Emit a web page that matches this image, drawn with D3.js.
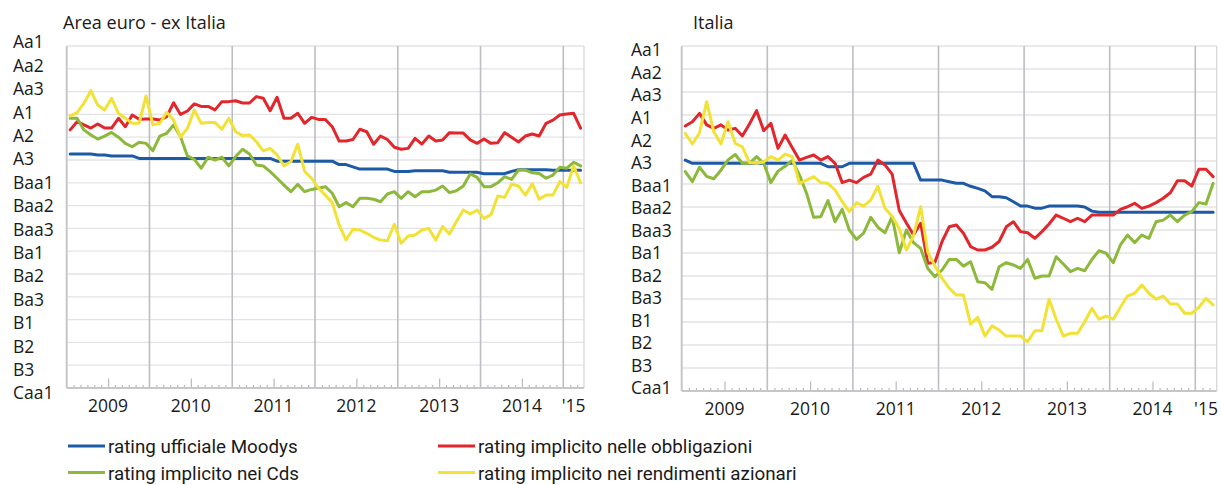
<!DOCTYPE html>
<html>
<head>
<meta charset="utf-8">
<script src="https://cdn.jsdelivr.net/npm/d3@7"></script>
<style>
  html, body { margin: 0; padding: 0; background: #ffffff; }
  svg { display: block; }
  text { fill: #1a1a1a; }
</style>
</head>
<body>
<svg id="chart" width="1221" height="485"></svg>
<script>
// Rating scale (1 = Aa1 ... 16 = Caa1)
const ratingLabels = ["Aa1", "Aa2", "Aa3", "A1", "A2", "A3", "Baa1", "Baa2", "Baa3",
  "Ba1", "Ba2", "Ba3", "B1", "B2", "B3", "Caa1"];

// Monthly observations, Jan 2009 – Mar 2015
const monthCount = 75;
const yearLabels = ["2009", "2010", "2011", "2012", "2013", "2014", "'15"];
const yearCenters = [6, 18, 30, 42, 54, 66, 73.5];

const seriesNames = [
  "rating ufficiale Moodys",
  "rating implicito nelle obbligazioni",
  "rating implicito nei Cds",
  "rating implicito nei rendimenti azionari"
];
const seriesColors = ["#1c5aa5", "#e2272c", "#8cb83b", "#f2e236"];

// Area euro - ex Italia
const euroMoodys = [5.74, 5.74, 5.74, 5.74, 5.78, 5.78, 5.82, 5.82, 5.82, 5.82,
  5.93, 5.93, 5.93, 5.93, 5.93, 5.93, 5.93, 5.93, 5.93, 5.93,
  5.93, 5.93, 5.93, 5.93, 5.93, 5.93, 5.93, 5.93, 5.93, 5.93,
  6.05, 6.05, 6.05, 6.05, 6.05, 6.05, 6.05, 6.05, 6.05, 6.2,
  6.2, 6.3, 6.4, 6.4, 6.4, 6.4, 6.4, 6.5, 6.5, 6.5,
  6.47, 6.47, 6.47, 6.47, 6.47, 6.54, 6.54, 6.54, 6.54, 6.54,
  6.6, 6.6, 6.6, 6.6, 6.5, 6.43, 6.43, 6.43, 6.43, 6.43,
  6.45, 6.45, 6.45, 6.45, 6.45];
const euroBonds = [4.68, 4.32, 4.46, 4.6, 4.42, 4.6, 4.6, 4.17, 4.54, 4.03,
  4.21, 4.2, 4.2, 4.25, 4.1, 3.49, 4.0, 3.85, 3.54, 3.65,
  3.65, 3.8, 3.44, 3.44, 3.4, 3.5, 3.5, 3.22, 3.29, 3.84,
  3.25, 4.17, 4.17, 3.95, 4.39, 4.13, 4.22, 4.22, 4.54, 5.17,
  5.17, 5.1, 4.65, 4.76, 5.31, 4.95, 5.1, 5.44, 5.53, 5.49,
  5.05, 5.3, 4.95, 5.17, 5.12, 4.8, 4.82, 4.82, 5.12, 5.27,
  5.08, 5.27, 5.24, 4.8, 5.0, 5.21, 4.95, 4.86, 4.95, 4.39,
  4.25, 4.03, 3.98, 3.95, 4.6];
const euroCds = [4.17, 4.17, 4.68, 4.9, 5.08, 4.95, 4.79, 5.0, 5.27, 5.42,
  5.22, 5.27, 5.59, 4.95, 4.83, 4.46, 4.98, 5.82, 5.97, 6.36,
  5.88, 6.0, 5.88, 6.26, 5.85, 5.53, 5.74, 6.22, 6.26, 6.51,
  6.8, 7.1, 7.39, 7.07, 7.39, 7.29, 7.24, 7.17, 7.46, 8.05,
  7.87, 8.05, 7.68, 7.68, 7.72, 7.83, 7.49, 7.39, 7.68, 7.39,
  7.61, 7.39, 7.39, 7.32, 7.14, 7.43, 7.35, 7.14, 6.61, 6.76,
  7.17, 7.17, 7.0, 6.73, 6.85, 6.44, 6.44, 6.56, 6.59, 6.8,
  6.66, 6.32, 6.36, 6.1, 6.26];
const euroEquity = [4.07, 3.92, 3.51, 2.96, 3.59, 3.81, 3.29, 3.95, 4.17, 4.39,
  4.39, 3.19, 4.46, 4.39, 3.91, 4.25, 5.0, 4.61, 3.81, 4.39,
  4.36, 4.36, 4.65, 4.17, 4.76, 4.93, 4.9, 5.2, 5.6, 5.49,
  5.78, 6.25, 6.07, 5.3, 6.5, 6.8, 7.24, 7.54, 7.87, 8.85,
  9.5, 9.04, 9.07, 9.22, 9.39, 9.51, 9.54, 8.82, 9.65, 9.33,
  9.29, 9.07, 9.0, 9.51, 8.92, 9.25, 8.7, 8.19, 8.37, 8.19,
  8.56, 8.41, 7.58, 7.64, 7.05, 7.14, 7.54, 7.05, 7.72, 7.54,
  7.54, 6.95, 7.2, 6.26, 7.0];

// Italia
const itMoodys = [5.96, 6.1, 6.1, 6.1, 6.1, 6.1, 6.1, 6.1, 6.1, 6.1,
  6.1, 6.1, 6.1, 6.1, 6.1, 6.1, 6.1, 6.1, 6.1, 6.1,
  6.25, 6.25, 6.25, 6.1, 6.1, 6.1, 6.1, 6.1, 6.1, 6.1,
  6.1, 6.1, 6.1, 6.83, 6.83, 6.83, 6.83, 6.9, 6.97, 6.97,
  7.1, 7.19, 7.3, 7.55, 7.55, 7.6, 7.77, 7.96, 7.96, 8.05,
  8.05, 7.96, 7.96, 7.96, 7.96, 7.96, 8.0, 8.18, 8.23, 8.23,
  8.23, 8.23, 8.23, 8.23, 8.23, 8.23, 8.23, 8.23, 8.23, 8.23,
  8.23, 8.23, 8.23, 8.23, 8.23];
const itBonds = [4.48, 4.29, 3.93, 4.43, 4.58, 4.43, 4.65, 4.58, 4.91, 4.39,
  3.81, 4.68, 4.36, 5.45, 4.87, 5.42, 5.96, 5.84, 5.74, 5.96,
  5.81, 6.1, 6.94, 6.83, 6.94, 6.71, 6.57, 5.96, 6.17, 6.57,
  8.15, 8.7, 9.22, 8.71, 10.45, 10.4, 9.5, 8.86, 8.78, 9.14,
  9.72, 9.87, 9.87, 9.75, 9.5, 8.86, 8.64, 9.07, 9.12, 9.36,
  9.07, 8.74, 8.35, 8.49, 8.64, 8.49, 8.64, 8.35, 8.35, 8.35,
  8.35, 8.1, 7.99, 7.84, 8.06, 7.96, 7.81, 7.62, 7.38, 6.86,
  6.86, 7.09, 6.36, 6.36, 6.68];
const itCds = [6.46, 6.9, 6.27, 6.67, 6.77, 6.4, 5.95, 5.72, 6.1, 6.1,
  5.81, 6.1, 6.94, 6.44, 6.23, 5.97, 6.6, 7.4, 8.45, 8.42,
  7.72, 8.64, 8.1, 9.0, 9.41, 9.14, 8.45, 8.88, 9.12, 8.42,
  9.99, 9.0, 9.55, 9.8, 10.67, 11.03, 10.74, 10.28, 10.28, 10.57,
  10.38, 11.25, 11.29, 11.58, 10.6, 10.42, 10.52, 10.67, 10.28, 11.1,
  11.0, 11.0, 10.16, 10.48, 10.81, 10.67, 10.77, 10.28, 9.9, 10.01,
  10.42, 9.65, 9.22, 9.55, 9.22, 9.36, 8.64, 8.57, 8.35, 8.64,
  8.35, 8.2, 7.81, 7.87, 6.97];
const itEquity = [4.8, 5.26, 4.77, 3.42, 4.73, 5.26, 4.29, 5.23, 5.38, 6.07,
  6.1, 6.03, 5.81, 5.96, 5.7, 5.81, 6.97, 6.83, 6.68, 6.94,
  6.97, 7.26, 7.77, 8.2, 7.81, 7.96, 7.7, 7.1, 8.06, 8.4,
  8.95, 9.87, 9.25, 7.99, 9.97, 10.56, 11.1, 11.53, 11.83, 11.83,
  13.09, 12.8, 13.61, 13.17, 13.35, 13.61, 13.61, 13.61, 13.86, 13.38,
  13.38, 12.01, 12.88, 13.61, 13.49, 13.49, 12.99, 12.41, 12.88, 12.74,
  12.88, 12.36, 11.87, 11.75, 11.39, 11.75, 12.01, 11.87, 12.22, 12.22,
  12.62, 12.62, 12.36, 11.97, 12.26];

const panels = [
  {
    title: "Area euro - ex Italia", titleX: 63,
    left: 66.7, right: 584, top: 46, bottom: 388,
    labelX: 13, labelTop: 42, labelBottom: 393, yearBaseline: 412,
    series: [euroMoodys, euroBonds, euroCds, euroEquity]
  },
  {
    title: "Italia", titleX: 693,
    left: 681.7, right: 1216.7, top: 46, bottom: 391,
    labelX: 631, labelTop: 50, labelBottom: 388, yearBaseline: 415,
    series: [itMoodys, itBonds, itCds, itEquity]
  }
];

const svg = d3.select("#chart");
const font = "'Open Sans', 'Noto Sans', sans-serif";
const months = d3.range(1, monthCount);

panels.forEach(p => {
  const x = d3.scaleLinear().domain([0, monthCount]).range([p.left, p.right]);
  const y = d3.scaleLinear().domain([1, ratingLabels.length]).range([p.top, p.bottom]);
  const yLabel = d3.scaleLinear().domain([1, ratingLabels.length]).range([p.labelTop, p.labelBottom]);
  const g = svg.append("g");

  // title
  g.append("text")
    .attr("x", p.titleX).attr("y", 28.5)
    .attr("font-family", font).attr("font-size", 18)
    .text(p.title);

  // horizontal gridlines
  g.append("g").selectAll("line")
    .data(d3.range(1, ratingLabels.length))
    .join("line")
    .attr("x1", p.left).attr("x2", p.right)
    .attr("y1", d => y(d)).attr("y2", d => y(d))
    .attr("stroke", "#e3e3e5").attr("stroke-width", 1.3);

  // right frame edge
  g.append("line")
    .attr("x1", p.right).attr("x2", p.right)
    .attr("y1", p.top).attr("y2", p.bottom)
    .attr("stroke", "#d8d8dc").attr("stroke-width", 1.3);

  // year separators
  g.append("g").selectAll("line")
    .data([12, 24, 36, 48, 60, 72])
    .join("line")
    .attr("x1", d => x(d)).attr("x2", d => x(d))
    .attr("y1", p.top).attr("y2", p.bottom)
    .attr("stroke", "#bdbdc4").attr("stroke-width", 1.6);

  // monthly ticks (short) and mid-year ticks (long), pointing into the plot
  const minorAxis = d3.axisBottom(x)
    .tickValues(months.filter(m => m % 12 !== 0 && m % 12 !== 6))
    .tickSize(-3).tickFormat("");
  const majorAxis = d3.axisBottom(x)
    .tickValues(months.filter(m => m % 12 === 6))
    .tickSize(-9.5).tickFormat("");
  [minorAxis, majorAxis].forEach(ax => {
    const a = g.append("g")
      .attr("transform", `translate(0,${p.bottom})`)
      .call(ax);
    a.select(".domain").remove();
    a.selectAll(".tick line").attr("stroke", "#b9b9bf").attr("stroke-width", 1.2);
  });

  // axis lines
  g.append("line")
    .attr("x1", p.left).attr("x2", p.right)
    .attr("y1", p.bottom).attr("y2", p.bottom)
    .attr("stroke", "#c6c6cb").attr("stroke-width", 2);
  g.append("line")
    .attr("x1", p.left).attr("x2", p.left)
    .attr("y1", p.top).attr("y2", p.bottom)
    .attr("stroke", "#c6c6cb").attr("stroke-width", 2);

  // rating labels
  g.append("g").selectAll("text")
    .data(ratingLabels)
    .join("text")
    .attr("x", p.labelX)
    .attr("y", (d, i) => yLabel(i + 1) + 6.4)
    .attr("font-family", font).attr("font-size", 17.5)
    .text(d => d);

  // year labels
  g.append("g").selectAll("text")
    .data(yearLabels)
    .join("text")
    .attr("x", (d, i) => x(yearCenters[i]))
    .attr("y", p.yearBaseline)
    .attr("text-anchor", "middle")
    .attr("font-family", font).attr("font-size", 17.5)
    .text(d => d);

  // series lines
  const line = d3.line()
    .x((d, i) => x(i + 0.5))
    .y(d => y(d));
  g.append("g").selectAll("path")
    .data(p.series)
    .join("path")
    .attr("d", line)
    .attr("fill", "none")
    .attr("stroke", (d, i) => seriesColors[i])
    .attr("stroke-width", 3)
    .attr("stroke-linejoin", "round")
    .attr("stroke-linecap", "round");
});

// legend (two columns)
const legendItems = seriesNames.map((name, i) => ({
  name, color: seriesColors[i],
  col: i % 2, row: Math.floor(i / 2)
}));
const legendCols = [68, 438];
const legendRows = [446, 472.5];
const legend = svg.append("g").selectAll("g")
  .data(legendItems)
  .join("g")
  .attr("transform", d => `translate(${legendCols[d.col]},${legendRows[d.row]})`);
legend.append("line")
  .attr("x1", 0).attr("x2", 37)
  .attr("y1", 0).attr("y2", 0)
  .attr("stroke", d => d.color).attr("stroke-width", 3);
legend.append("text")
  .attr("x", 40).attr("y", 7)
  .attr("font-family", "Roboto, 'Open Sans', sans-serif")
  .attr("font-size", 18.8)
  .text(d => d.name);
</script>
</body>
</html>
